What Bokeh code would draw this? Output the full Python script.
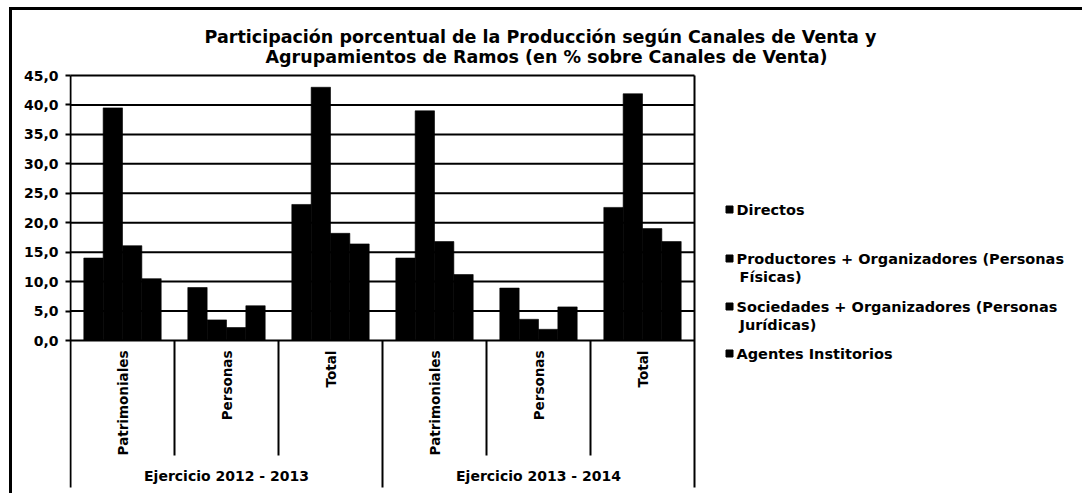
import math
from bokeh.plotting import figure
from bokeh.models import Range1d, FixedTicker, CustomJSTickFormatter
from bokeh.core.properties import value
from bokeh.embed import file_html
from bokeh.resources import INLINE

# ---------------- data ----------------
groups = ["Ejercicio 2012 - 2013", "Ejercicio 2013 - 2014"]
cats = ["Patrimoniales", "Personas", "Total"]
series_names = [
    "Directos",
    "Productores + Organizadores (Personas\nFísicas)",
    "Sociedades + Organizadores (Personas\nJurídicas)",
    "Agentes Institorios",
]
# order: 2012-13 Patrimoniales, Personas, Total, 2013-14 Patrimoniales, Personas, Total
directos = [14.0, 9.0, 23.1, 14.0, 8.9, 22.6]
productores = [39.5, 3.5, 43.0, 39.0, 3.6, 41.9]
sociedades = [16.1, 2.2, 18.2, 16.8, 1.9, 19.0]
agentes = [10.5, 5.9, 16.4, 11.2, 5.7, 16.8]
y_ticks = [0, 5, 10, 15, 20, 25, 30, 35, 40, 45]
title_lines = ["Participación porcentual de la Producción según Canales de Venta y",
               "Agrupamientos de Ramos (en % sobre Canales de Venta)"]

series_values = [directos, productores, sociedades, agentes]

# ---------------- layout (picture pixels) ----------------
FONT = "DejaVu Sans"
ML, MT, BORDER = 9, 7, 3           # css margin + border of the figure element
CX0, CY0 = ML + BORDER, MT + BORDER  # canvas origin in picture px
PIC_W, PIC_H = 1085, 496
W, H = PIC_W - CX0, PIC_H - CY0
X0_PX = 70            # picture x of data x = 0
SLOT_PX = 104         # px per category slot
Y0_PX = 340           # picture y of value 0
PX_PER_Y = 265.0 / 45.0
FRAME_L_PX = 69
BAR_W = 0.186

def dx(px):
    return (px - X0_PX) / SLOT_PX

def dy(py):
    return (Y0_PX - py) / PX_PER_Y

p = figure(width=W, height=H,
           x_range=Range1d(dx(FRAME_L_PX), dx(PIC_W)),
           y_range=Range1d(dy(PIC_H), dy(CY0)),
           output_backend="svg", toolbar_location=None, x_axis_location=None,
           min_border_left=FRAME_L_PX - CX0, min_border_top=0,
           min_border_right=0, min_border_bottom=0)
p.title.visible = False
p.outline_line_color = None
p.background_fill_color = "white"
p.border_fill_color = "white"
p.styles = {"border-left": f"{BORDER}px solid black", "border-top": f"{BORDER}px solid black",
            "margin-left": f"{ML}px", "margin-top": f"{MT}px"}
p.xgrid.visible = False
p.ygrid.visible = False

# y axis (ticks + labels only; line drawn below)
ya = p.yaxis[0]
ya.ticker = FixedTicker(ticks=y_ticks)
ya.bounds = (min(y_ticks), max(y_ticks))
ya.formatter = CustomJSTickFormatter(code="return tick.toFixed(1).replace('.', ',');")
ya.axis_line_color = None
ya.major_tick_line_width = 2
ya.major_tick_line_color = "black"
ya.major_tick_out = 4
ya.major_tick_in = 1
ya.minor_tick_line_color = None
ya.major_label_standoff = 7
ya.major_label_text_font = FONT
ya.major_label_text_font_style = "bold"
ya.major_label_text_font_size = "14px"
ya.major_label_text_color = "black"

n = len(groups) * len(cats)
y_top, y_bottom = max(y_ticks), min(y_ticks)
grp_bottom = dy(487)
cat_bottom = dy(455)

# gridlines (also frame top)
p.segment(x0=[0] * len(y_ticks), y0=y_ticks, x1=[n] * len(y_ticks), y1=y_ticks,
          line_color="black", line_width=2)

# bars
for j, vals in enumerate(series_values):
    xs = [i + 0.5 + (j - 1.5) * BAR_W for i in range(n)]
    p.vbar(x=xs, top=vals, bottom=0, width=BAR_W, fill_color="black",
           line_color="black", line_width=0.6)

# plot-area edges / group separators (full height) and category separators
grp_sep = [i for i in range(0, n + 1) if i % len(cats) == 0]
cat_sep = [i for i in range(1, n) if i % len(cats) != 0]
p.segment(x0=grp_sep, y0=[y_top if i in (0, n) else y_bottom for i in grp_sep],
          x1=grp_sep, y1=[grp_bottom] * len(grp_sep), line_color="black", line_width=2)
p.segment(x0=cat_sep, y0=[y_bottom] * len(cat_sep), x1=cat_sep, y1=[cat_bottom] * len(cat_sep),
          line_color="black", line_width=2)

# category labels (vertical)
slot_x = [i + 0.5 for i in range(n)]
cat_text = [c for g in groups for c in cats]
p.text(x=slot_x, y=[dy(350)] * n, text=cat_text, angle=math.pi / 2,
       text_align="right", text_baseline="middle", text_font=value(FONT),
       text_font_style="bold", text_font_size="13.5px", text_color="black")

# group labels
gx = [len(cats) * k + len(cats) / 2 for k in range(len(groups))]
p.text(x=gx, y=[dy(475)] * len(groups), text=groups, text_align="center",
       text_baseline="middle", text_font=value(FONT), text_font_style="bold",
       text_font_size="14px", text_color="black")

# title
p.text(x=[dx(540), dx(546)], y=[dy(36), dy(56)], text=title_lines, text_align="center",
       text_baseline="middle", text_font=value(FONT), text_font_style="bold",
       text_font_size="17.5px", text_color="black")

# legend (manual)
legend_rows = [209, 258, 306, 353]
p.scatter(x=[dx(729)] * 4, y=[dy(r) for r in legend_rows], marker="square", size=7,
          fill_color="black", line_color="black")
lx, ly, lt = [], [], []
for name, r in zip(series_names, legend_rows):
    for k, line in enumerate(name.split("\n")):
        lx.append(dx(736 + (3 if k else 0)))
        ly.append(dy(r + 18 * k))
        lt.append(line)
p.text(x=lx, y=ly, text=lt, text_align="left", text_baseline="middle",
       text_font=value(FONT), text_font_style="bold", text_font_size="14.5px",
       text_color="black")

open("out.html", "w").write(file_html(p, INLINE))
